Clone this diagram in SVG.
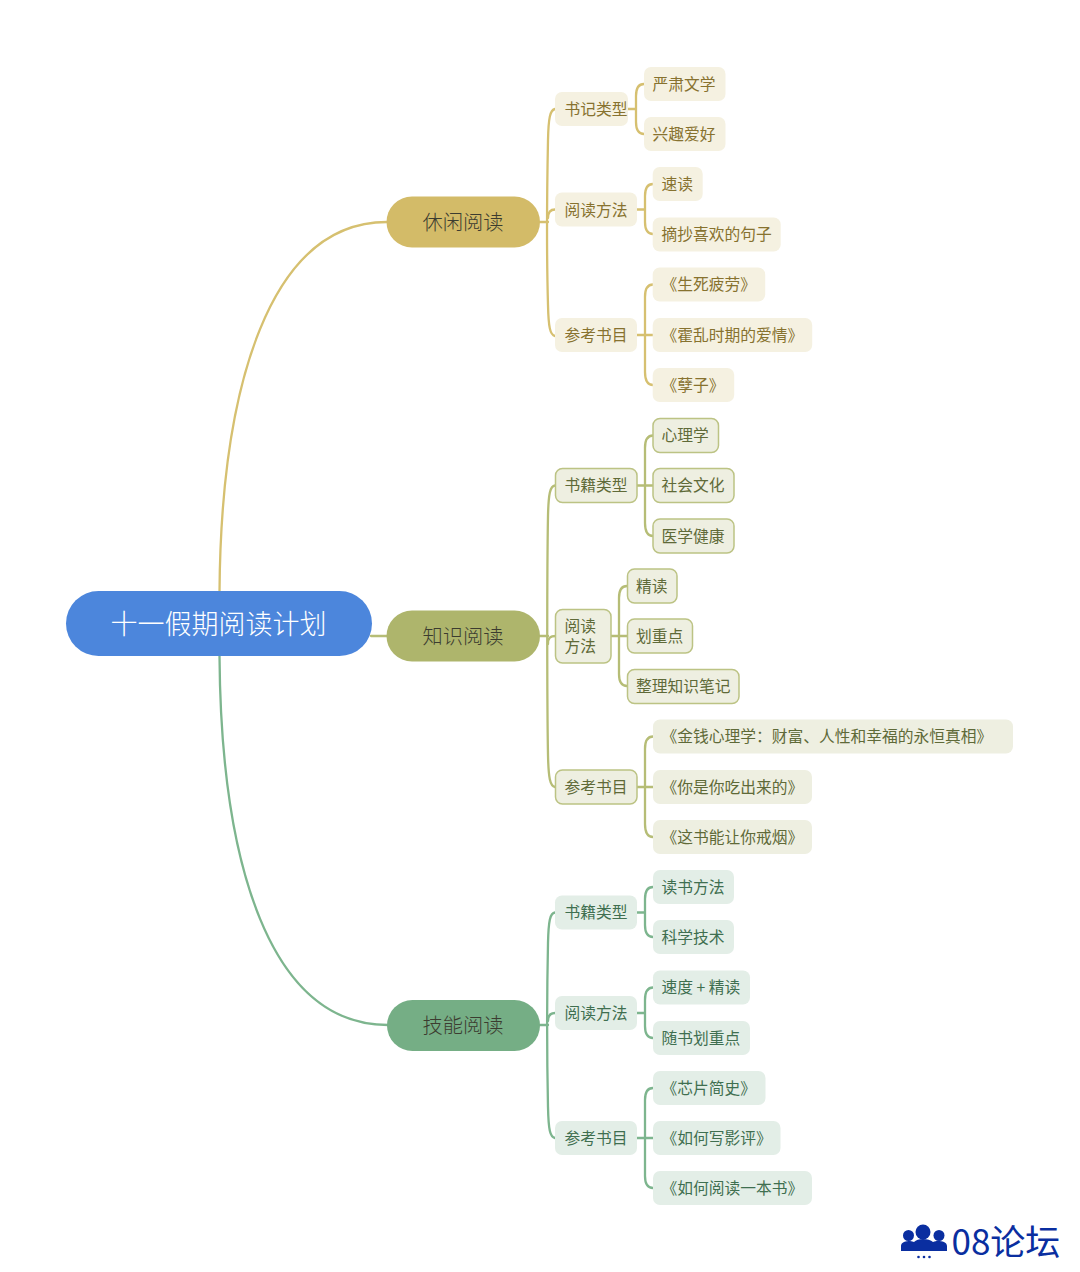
<svg xmlns="http://www.w3.org/2000/svg" width="1080" height="1272" viewBox="0 0 1080 1272">
<style>
text{font-family:"Noto Sans CJK SC","Noto Sans",sans-serif;font-weight:400}
.c{fill:none;stroke-width:2.300;stroke-linecap:round}
.cg{stroke:#d6c070}.co{stroke:#b6bd76}.cn{stroke:#7db58e}
.t{font-size:15.750px}
.m{font-size:20.250px;fill:#3c3c30;font-weight:300}
.g rect{fill:#f5f1e1}.g text{fill:#87722f}
.o rect{fill:#eeefe1}.o text{fill:#5f6a38}
.ob rect{stroke:#bcc384;stroke-width:1.500}
.n rect{fill:#e3eee7}.n text{fill:#3f6f50}
</style>
<g id="connectors">
<path class="c cg" d="M219.500 592C221 385 270 222 387 222"/>
<path class="c cn" d="M219.500 656C221 865 270 1025 388 1025"/>
<path class="c co" d="M371 636H387"/>
<path class="c cg" d="M540 222H548"/>
<path class="c cg" d="M555 109C550 110 548.500 118 548 140C547 190 547 270 548 305C548.500 327 550 335 555 336"/>
<path class="c cg" d="M548 218C548 212 550 209.500 555 209.500"/>
<path class="c cg" d="M628 109H636M644 84C638 84 636 89 636 96V122C636 129 638 134 644 134"/>
<path class="c cg" d="M637 209.500H645M653 184C647 184 645 189 645 196V222C645 229 647 234 653 234"/>
<path class="c cg" d="M637 335H653M653 284.500C647 284.500 645 290 645 297V372C645 379 647 385 653 385"/>
<path class="c co" d="M540 636H548"/>
<path class="c co" d="M555 485.500C550 486 548.500 494 548 516C547 570 547 700 548 755C548.500 778 550 786 555 787"/>
<path class="c co" d="M548 644C548 638 550 636 556 636"/>
<path class="c co" d="M637 485.500H653M653 435.500C647 435.500 645 441 645 448V523C645 530 647 536 653 536"/>
<path class="c co" d="M611 636H627M627 586C621 586 619 591 619 598V674C619 681 621 686 627 686"/>
<path class="c co" d="M637 787H653M653 736.500C647 736.500 645 742 645 749V824C645 831 647 837 653 837"/>
<path class="c cn" d="M540 1025H548"/>
<path class="c cn" d="M555 912.500C550 913 548.500 921 548 943C547 990 547 1060 548 1107C548.500 1130 550 1137 555 1138"/>
<path class="c cn" d="M548 1021C548 1016 550 1013 555 1013"/>
<path class="c cn" d="M637 912.500H645M653 887C647 887 645 892 645 899V925C645 932 647 937 653 937"/>
<path class="c cn" d="M637 1013H645M653 987.500C647 987.500 645 993 645 1000V1026C645 1033 647 1038 653 1038"/>
<path class="c cn" d="M637 1138H653M653 1088C647 1088 645 1093 645 1100V1176C645 1183 647 1188 653 1188"/>
</g>
<g id="root"><rect x="66" y="591" width="306" height="65" rx="32.500" fill="#4c86dc"/><text x="110.500" y="633.800" font-size="27" fill="#fff" style="font-weight:300">十一假期阅读计划</text></g>
<g id="b1"><rect x="386.500" y="196.500" width="153.500" height="51" rx="25.500" fill="#d3bb68"/><text class="m" x="422.500" y="229.800">休闲阅读</text></g>
<g id="b2"><rect x="386.500" y="610.500" width="153.500" height="51" rx="25.500" fill="#aeb56c"/><text class="m" x="422.500" y="643.800">知识阅读</text></g>
<g id="b3"><rect x="387" y="1000" width="153" height="51" rx="25.500" fill="#75ae85"/><text class="m" x="422.500" y="1033">技能阅读</text></g>
<g class="g">
<g id="g1"><rect x="555" y="92" width="73" height="34" rx="7"/><text class="t" x="564.500" y="114.900">书记类型</text></g>
<g id="g2"><rect x="644" y="67" width="81.500" height="34" rx="7"/><text class="t" x="652.500" y="89.700">严肃文学</text></g>
<g id="g3"><rect x="644" y="117" width="81.500" height="34" rx="7"/><text class="t" x="652.500" y="139.700">兴趣爱好</text></g>
<g id="g4"><rect x="555" y="192.500" width="82" height="34" rx="7"/><text class="t" x="564.500" y="215.700">阅读方法</text></g>
<g id="g5"><rect x="652.700" y="167" width="50" height="34" rx="7"/><text class="t" x="661.500" y="189.700">速读</text></g>
<g id="g6"><rect x="652.700" y="217.500" width="128" height="34" rx="7"/><text class="t" x="661.500" y="240.200">摘抄喜欢的句子</text></g>
<g id="g7"><rect x="555" y="318" width="82" height="34" rx="7"/><text class="t" x="564.500" y="340.500">参考书目</text></g>
<g id="g8"><rect x="652.700" y="267.500" width="112.500" height="34" rx="7"/><text class="t" x="661.500" y="290.200">《生死疲劳》</text></g>
<g id="g9"><rect x="652.700" y="318" width="159.500" height="34" rx="7"/><text class="t" x="661.500" y="340.500">《霍乱时期的爱情》</text></g>
<g id="g10"><rect x="652.700" y="368" width="81.500" height="34" rx="7"/><text class="t" x="661.500" y="390.700">《孽子》</text></g>
</g>
<g class="o">
<g class="ob">
<g id="o1"><rect x="555.500" y="468.500" width="81.500" height="34" rx="7"/><text class="t" x="564.500" y="491.200">书籍类型</text></g>
<g id="o2"><rect x="653" y="418.500" width="65.500" height="34" rx="7"/><text class="t" x="661.500" y="441.200">心理学</text></g>
<g id="o3"><rect x="653" y="468.500" width="81" height="34" rx="7"/><text class="t" x="661.500" y="491.200">社会文化</text></g>
<g id="o4"><rect x="653" y="519" width="81" height="34" rx="7"/><text class="t" x="661.500" y="541.500">医学健康</text></g>
<g id="o5"><rect x="555.500" y="609.500" width="55.500" height="53.500" rx="7"/><text class="t" x="564.500" y="631.500">阅读</text><text class="t" x="564.500" y="652">方法</text></g>
<g id="o6"><rect x="627.500" y="569" width="49.500" height="34" rx="7"/><text class="t" x="636" y="591.500">精读</text></g>
<g id="o7"><rect x="627.500" y="619" width="65" height="34" rx="7"/><text class="t" x="636" y="641.700">划重点</text></g>
<g id="o8"><rect x="627.500" y="669.500" width="111.500" height="34" rx="7"/><text class="t" x="636" y="692.200">整理知识笔记</text></g>
<g id="o9"><rect x="555.500" y="770" width="81.500" height="34" rx="7"/><text class="t" x="564.500" y="792.500">参考书目</text></g>
</g>
<g id="o10"><rect x="653" y="719.500" width="360" height="34" rx="7"/><text class="t" x="661.500" y="742.200">《金钱心理学：财富、人性和幸福的永恒真相》</text></g>
<g id="o11"><rect x="653" y="770" width="159" height="34" rx="7"/><text class="t" x="661.500" y="792.500">《你是你吃出来的》</text></g>
<g id="o12"><rect x="653" y="820" width="159" height="34" rx="7"/><text class="t" x="661.500" y="842.700">《这书能让你戒烟》</text></g>
</g>
<g class="n">
<g id="n1"><rect x="555" y="895.500" width="82" height="34" rx="7"/><text class="t" x="564.500" y="918.400">书籍类型</text></g>
<g id="n2"><rect x="653" y="870" width="81" height="34" rx="7"/><text class="t" x="661.500" y="892.700">读书方法</text></g>
<g id="n3"><rect x="653" y="920" width="81" height="34" rx="7"/><text class="t" x="661.500" y="942.700">科学技术</text></g>
<g id="n4"><rect x="555" y="996" width="82" height="34" rx="7"/><text class="t" x="564.500" y="1018.700">阅读方法</text></g>
<g id="n5"><rect x="653" y="970.500" width="97" height="34" rx="7"/><text class="t" x="661.500" y="993.200">速度 + 精读</text></g>
<g id="n6"><rect x="653" y="1021" width="97" height="34" rx="7"/><text class="t" x="661.500" y="1043.500">随书划重点</text></g>
<g id="n7"><rect x="555" y="1121" width="82" height="34" rx="7"/><text class="t" x="564.500" y="1143.700">参考书目</text></g>
<g id="n8"><rect x="653" y="1071" width="112.500" height="34" rx="7"/><text class="t" x="661.500" y="1093.700">《芯片简史》</text></g>
<g id="n9"><rect x="653" y="1121" width="127.500" height="34" rx="7"/><text class="t" x="661.500" y="1143.700">《如何写影评》</text></g>
<g id="n10"><rect x="653" y="1171" width="159" height="34" rx="7"/><text class="t" x="661.500" y="1193.700">《如何阅读一本书》</text></g>
</g>
<g id="logo" fill="#0a2ea0">
<circle cx="923" cy="1232" r="7.500"/><circle cx="908.500" cy="1235.500" r="5.500"/><circle cx="939" cy="1235.500" r="5.500"/>
<path d="M901 1251V1246C901 1242 906 1241 910 1241C912 1241 913 1242 914 1242C916 1240 919 1239 923 1239C927 1239 931 1240 933 1242C935 1241 936 1241 938 1241C942 1241 947 1242 947 1246V1251Z"/>
<circle cx="918.500" cy="1257" r="1.300"/><circle cx="924" cy="1257" r="1.300"/><circle cx="929.500" cy="1257" r="1.300"/>
<text x="951.500" y="1254.800" font-size="35">08论坛</text>
</g>
</svg>
